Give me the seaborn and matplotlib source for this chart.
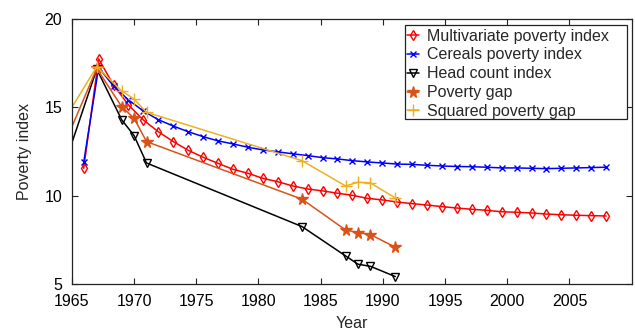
import matplotlib
matplotlib.use("Agg")
import matplotlib.pyplot as plt
from matplotlib.patches import Rectangle
import seaborn as sns
import pandas as pd

# ---- data ----
grid_years = [1965.95, 1967.15, 1968.35, 1969.55, 1970.75, 1971.95, 1973.15, 1974.35,
              1975.55, 1976.75, 1977.95, 1979.15, 1980.35, 1981.55, 1982.75, 1983.95,
              1985.15, 1986.35, 1987.55, 1988.75, 1989.95, 1991.15, 1992.35, 1993.55,
              1994.75, 1995.95, 1997.15, 1998.35, 1999.55, 2000.75, 2001.95, 2003.15,
              2004.35, 2005.55, 2006.75, 2007.95]
multivariate = [11.55, 17.74, 16.26, 15.13, 14.28, 13.62, 13.06, 12.57, 12.17, 11.83,
                11.49, 11.27, 10.98, 10.79, 10.55, 10.38, 10.27, 10.14, 10.02, 9.85,
                9.76, 9.64, 9.55, 9.47, 9.38, 9.30, 9.23, 9.17, 9.09, 9.06,
                9.02, 8.96, 8.92, 8.89, 8.87, 8.85]
cereals = [11.89, 17.25, 16.20, 15.42, 14.79, 14.30, 13.94, 13.62, 13.34, 13.10,
           12.93, 12.74, 12.59, 12.48, 12.37, 12.27, 12.15, 12.08, 11.98, 11.91,
           11.85, 11.79, 11.77, 11.72, 11.68, 11.65, 11.64, 11.61, 11.57, 11.57,
           11.55, 11.53, 11.55, 11.57, 11.59, 11.61]

survey_years = [1964, 1967, 1969, 1970, 1971, 1983.5, 1987, 1988, 1989, 1991]
head_count = [10.9, 17.17, 14.30, 13.40, 11.85, 8.25, 6.59, 6.12, 6.00, 5.42]
poverty_gap = [12.25, 17.20, 15.04, 14.38, 13.06, 9.80, 8.06, 7.91, 7.80, 7.08]
squared_gap = [13.85, 17.30, 15.93, 15.47, 14.72, 11.98, 10.55, 10.76, 10.72, 9.87]

labels = ["Multivariate poverty index", "Cereals poverty index", "Head count index",
          "Poverty gap", "Squared poverty gap"]
x_ticks = [1965, 1970, 1975, 1980, 1985, 1990, 1995, 2000, 2005]
y_ticks = [5, 10, 15, 20]

# ---- style ----
sns.set_style("ticks")
plt.rcParams["font.family"] = ["Liberation Sans", "DejaVu Sans"]
FS = 11.5
EDGE = "#222222"

fig = plt.figure(figsize=(6.35, 3.31), dpi=100)
ax = fig.add_axes([0.1132, 0.142, 0.8816, 0.8006])

series = [
    (grid_years, multivariate, labels[0], "#ff0000", "d", 5.5, "none"),
    (grid_years, cereals, labels[1], "#0000ff", "x", 4.5, "#0000ff"),
    (survey_years, head_count, labels[2], "#000000", "v", 5.5, "none"),
    (survey_years, poverty_gap, labels[3], "#D95319", "*", 8.5, "#D95319"),
    (survey_years, squared_gap, labels[4], "#EDB120", "+", 8, "#EDB120"),
]
for xs, ys, lab, col, mk, ms, mfc in series:
    df = pd.DataFrame({"year": xs, "value": ys})
    sns.lineplot(data=df, x="year", y="value", ax=ax, label=lab, color=col,
                 marker=mk, markersize=ms, markerfacecolor=mfc,
                 markeredgecolor=col, markeredgewidth=1.0, linewidth=1.1,
                 estimator=None, sort=False)

ax.set_xlim(1965, 2010)
ax.set_ylim(5, 20)
ax.set_xticks(x_ticks)
ax.set_yticks(y_ticks)
ax.tick_params(direction="in", top=True, right=True, length=4, width=0.8,
               pad=7, labelsize=FS, colors=EDGE, labelcolor="black")
for s in ax.spines.values():
    s.set_visible(True)
    s.set_color(EDGE)
    s.set_linewidth(0.9)

ax.set_xlabel("Year", fontsize=FS, labelpad=5)
ax.set_ylabel("Poverty index", fontsize=FS, labelpad=9)

# legend: entries without frame, frame drawn as a box with extra right margin
box_left, box_right, box_top, box_bottom = 0.595, 0.9916, 0.9774, 0.6226
leg = ax.legend(loc="upper left", bbox_to_anchor=(box_left, box_top - 0.0076),
                frameon=False, fontsize=FS, handlelength=0.8, handletextpad=0.5,
                borderpad=0.1, labelspacing=0.24, borderaxespad=0.0)
ax.add_patch(Rectangle((box_left, box_bottom), box_right - box_left, box_top - box_bottom,
                       transform=ax.transAxes, facecolor="white", edgecolor=EDGE,
                       linewidth=0.9, zorder=4.9))
leg.set_zorder(5)

fig.savefig("out.png", dpi=100)
